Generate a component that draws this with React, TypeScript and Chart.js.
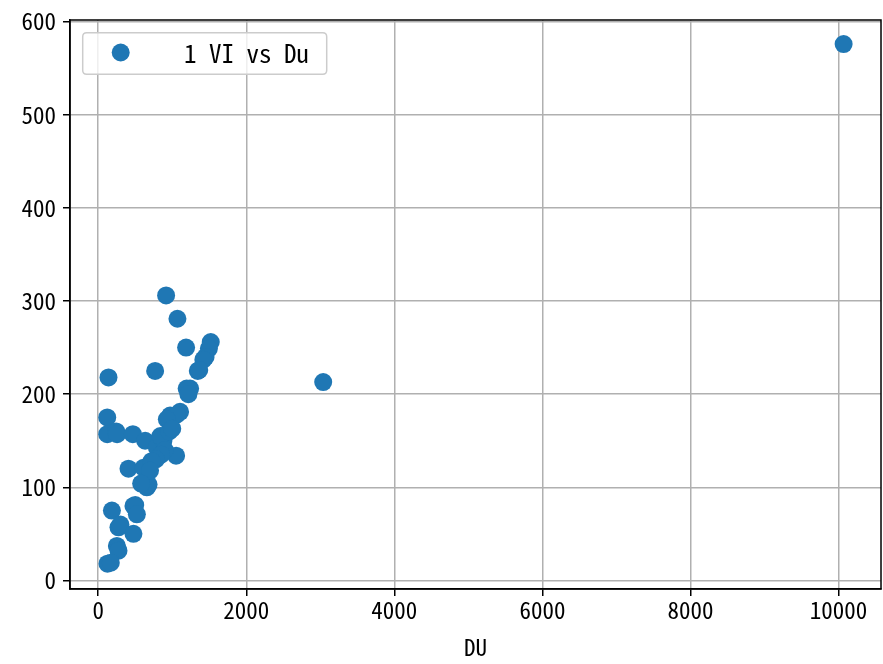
import React, { useEffect, useRef } from "react";
import { Chart, registerables } from "chart.js";

Chart.register(...registerables);

const seriesLabel = "1 VI vs Du";
const xTitle = "DU";

const duValues = [
  917, 1070, 1520, 1495, 1450, 1420, 1187, 769, 139, 1345, 1365, 1241, 1195, 1218,
  122, 122, 243, 255, 468, 971, 1106, 1060, 927, 634, 1052, 409, 611, 657, 680,
  791, 881, 840, 960, 1000, 900, 850, 780, 720, 700, 580, 185, 476, 500, 522,
  274, 300, 476, 252, 274, 125, 170, 3039, 10068,
];
const viValues = [
  306, 281, 256, 249, 240, 237, 250, 225, 218, 225, 226, 206, 206, 200,
  175, 157, 160, 157, 157, 177, 181, 178, 173, 150, 134, 120, 121, 100, 103,
  143, 150, 155, 160, 163, 140, 135, 130, 128, 118, 104, 75, 80, 81, 71,
  57, 60, 50, 37, 32, 18, 19, 213, 576,
];

const xTickValues = [0, 2000, 4000, 6000, 8000, 10000];
const yTickValues = [0, 100, 200, 300, 400, 500, 600];

const xMin = -381;
const xMax = 10573;
const yMin = -9.2;
const yMax = 601.8;

const FONT = "'Noto Sans Mono CJK JP', 'Noto Sans CJK JP', monospace";
const FONT_SIZE = 23;
const LEGEND_FONT_SIZE = 25;

export default function App() {
  const ref = useRef<HTMLCanvasElement | null>(null);

  useEffect(() => {
    document.body.style.margin = "0";
    const canvas = ref.current;
    if (!canvas) return;

    const framePlugin = {
      id: "frameLegend",
      afterDatasetsDraw(chart: any) {
        const { ctx, chartArea } = chart;
        ctx.save();
        ctx.strokeStyle = "#000";
        ctx.lineWidth = 1.5;
        ctx.strokeRect(chartArea.left, chartArea.top, chartArea.right - chartArea.left, chartArea.bottom - chartArea.top);
        const bx = 82.7, by = 32.7, bw = 244, bh = 41.6, r = 4;
        ctx.beginPath();
        ctx.moveTo(bx + r, by);
        ctx.lineTo(bx + bw - r, by);
        ctx.quadraticCurveTo(bx + bw, by, bx + bw, by + r);
        ctx.lineTo(bx + bw, by + bh - r);
        ctx.quadraticCurveTo(bx + bw, by + bh, bx + bw - r, by + bh);
        ctx.lineTo(bx + r, by + bh);
        ctx.quadraticCurveTo(bx, by + bh, bx, by + bh - r);
        ctx.lineTo(bx, by + r);
        ctx.quadraticCurveTo(bx, by, bx + r, by);
        ctx.closePath();
        ctx.fillStyle = "rgba(255,255,255,0.8)";
        ctx.fill();
        ctx.strokeStyle = "#cccccc";
        ctx.lineWidth = 1.5;
        ctx.stroke();
        ctx.beginPath();
        ctx.arc(120.7, 52.5, 9, 0, Math.PI * 2);
        ctx.fillStyle = "#1f77b4";
        ctx.fill();
        ctx.fillStyle = "#000";
        ctx.font = `${LEGEND_FONT_SIZE}px ${FONT}`;
        ctx.textBaseline = "middle";
        ctx.textAlign = "left";
        ctx.fillText(seriesLabel, 184, 53);
        ctx.restore();
      },
    };

    const chart = new Chart(canvas, {
      type: "scatter",
      data: {
        datasets: [
          {
            label: seriesLabel,
            data: duValues.map((x, i) => ({ x, y: viValues[i] })),
            backgroundColor: "#1f77b4",
            borderWidth: 0,
            pointRadius: 9,
            pointHoverRadius: 9,
          },
        ],
      },
      options: {
        animation: false,
        responsive: false,
        layout: { autoPadding: false, padding: { top: 20, right: 2, left: 0, bottom: 0 } },
        plugins: { legend: { display: false }, tooltip: { enabled: false } },
        scales: {
          x: {
            type: "linear",
            min: xMin,
            max: xMax,
            afterFit: (s: any) => { s.height = 75; s.paddingLeft = 0; s.paddingRight = 0; },
            afterBuildTicks: (s: any) => { s.ticks = xTickValues.map((v) => ({ value: v })); },
            ticks: {
              color: "#000",
              font: { family: FONT, size: FONT_SIZE },
              padding: 0,
              maxRotation: 0,
              autoSkip: false,
              callback: (v: any) => String(v),
            },
            grid: { color: "#b0b0b0", lineWidth: 1.5, tickColor: "#000", tickLength: 7, tickWidth: 1.5 },
            border: { color: "#000", width: 1.5 },
            title: { display: true, text: xTitle, color: "#000", font: { family: FONT, size: FONT_SIZE }, padding: { top: 0, bottom: 3 } },
          },
          y: {
            type: "linear",
            min: yMin,
            max: yMax,
            afterFit: (s: any) => { s.width = 70; s.paddingTop = 0; s.paddingBottom = 0; },
            afterBuildTicks: (s: any) => { s.ticks = yTickValues.map((v) => ({ value: v })); },
            ticks: {
              color: "#000",
              font: { family: FONT, size: FONT_SIZE },
              padding: 7,
              autoSkip: false,
              callback: (v: any) => String(v),
            },
            grid: { color: "#b0b0b0", lineWidth: 1.5, tickColor: "#000", tickLength: 7, tickWidth: 1.5 },
            border: { color: "#000", width: 1.5 },
          },
        },
      },
      plugins: [framePlugin],
    } as any);

    return () => chart.destroy();
  }, []);

  return (
    <div style={{ position: "fixed", left: 0, top: 0, width: 883, height: 664, background: "#fff" }}>
      <canvas ref={ref} width={883} height={664} style={{ display: "block", width: 883, height: 664 }} />
    </div>
  );
}
